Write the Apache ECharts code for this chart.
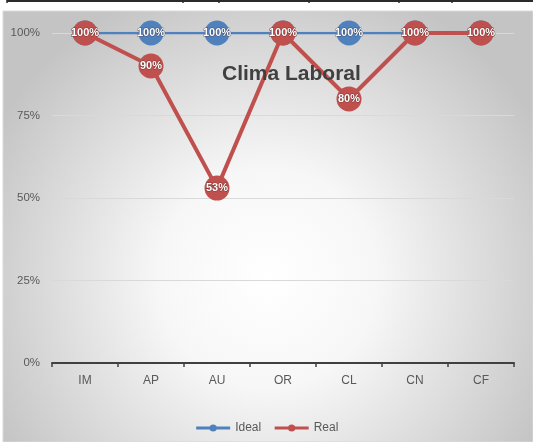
<!DOCTYPE html>
<html>
<head>
<meta charset="utf-8">
<script src="https://cdn.jsdelivr.net/npm/echarts@6/dist/echarts.min.js"></script>
<style>
  html, body { margin: 0; padding: 0; background: #ffffff; }
  #chart { width: 533px; height: 442px; }
</style>
</head>
<body>
<div id="chart"></div>
<script>
// Work-climate dimensions and scores (percent)
const categories = ['IM', 'AP', 'AU', 'OR', 'CL', 'CN', 'CF'];
const idealValues = [100, 100, 100, 100, 100, 100, 100];
const realValues = [100, 90, 53, 100, 80, 100, 100];
const yTicks = [0, 25, 50, 75, 100];

const FONT = '"Liberation Sans", "DejaVu Sans", sans-serif';
const BLUE = '#4f81bd';
const RED = '#c0504d';

const chart = echarts.init(document.getElementById('chart'), null, { renderer: 'canvas' });

// Table border fragment sitting above the chart
const tableCols = [7, 183, 219, 309, 399, 452];
const tableGraphics = [
  { type: 'line', z: 100, shape: { x1: 7, y1: 1, x2: 533, y2: 1 }, style: { stroke: '#2b2b2b', lineWidth: 2 } }
].concat(tableCols.map(x => ({
  type: 'line', z: 100, shape: { x1: x, y1: 0, x2: x, y2: 3 }, style: { stroke: '#2b2b2b', lineWidth: 1.5 }
})));

const labelStyle = {
  show: true,
  position: 'inside',
  formatter: '{c}%',
  color: '#ffffff',
  fontFamily: FONT,
  fontSize: 11,
  fontWeight: 'bold',
  textBorderColor: 'rgba(60,30,30,0.55)',
  textBorderWidth: 1
};

chart.setOption({
  animation: false,
  graphic: [
    {
      type: 'rect',
      z: -100,
      silent: true,
      shape: { x: 3, y: 11, width: 530, height: 431 },
      style: {
        fill: {
          type: 'radial', x: 0.5, y: 0.62, r: 0.72,
          colorStops: [
            { offset: 0, color: '#ffffff' },
            { offset: 0.35, color: '#f7f7f7' },
            { offset: 1, color: '#c4c4c4' }
          ]
        },
        stroke: '#d9d9d9',
        lineWidth: 1
      }
    }
  ].concat(tableGraphics),
  title: {
    text: 'Clima Laboral',
    left: 217,
    top: 59,
    textStyle: { fontFamily: FONT, fontSize: 21, fontWeight: 'bold', color: '#404040' }
  },
  legend: {
    bottom: 3,
    left: 'center',
    itemWidth: 34,
    itemHeight: 9,
    itemGap: 12,
    lineStyle: { width: 3 },
    textStyle: { fontFamily: FONT, fontSize: 12, color: '#595959' },
    data: ['Ideal', 'Real']
  },
  grid: { left: 52, right: 19, top: 33, bottom: 79 },
  xAxis: {
    type: 'category',
    data: categories,
    boundaryGap: true,
    axisLine: { lineStyle: { color: '#404040', width: 2 } },
    axisTick: { show: true, length: 4, lineStyle: { color: '#404040', width: 1.5 } },
    axisLabel: { fontFamily: FONT, fontSize: 12, color: '#595959', margin: 12 }
  },
  yAxis: {
    type: 'value',
    min: yTicks[0],
    max: yTicks[yTicks.length - 1],
    interval: yTicks[1] - yTicks[0],
    axisLine: { show: false },
    axisTick: { show: false },
    axisLabel: { fontFamily: FONT, fontSize: 11.5, color: '#595959', margin: 12, formatter: '{value}%' },
    splitLine: { lineStyle: { color: '#d9d9d9', width: 1 } }
  },
  series: [
    {
      name: 'Ideal',
      type: 'line',
      data: idealValues,
      symbol: 'circle',
      symbolSize: 25,
      itemStyle: { color: BLUE },
      lineStyle: { color: BLUE, width: 2.5 },
      label: labelStyle,
      z: 2
    },
    {
      name: 'Real',
      type: 'line',
      data: realValues,
      symbol: 'circle',
      symbolSize: 25,
      itemStyle: { color: RED },
      lineStyle: { color: RED, width: 4 },
      label: labelStyle,
      z: 3
    }
  ]
});
</script>
</body>
</html>
